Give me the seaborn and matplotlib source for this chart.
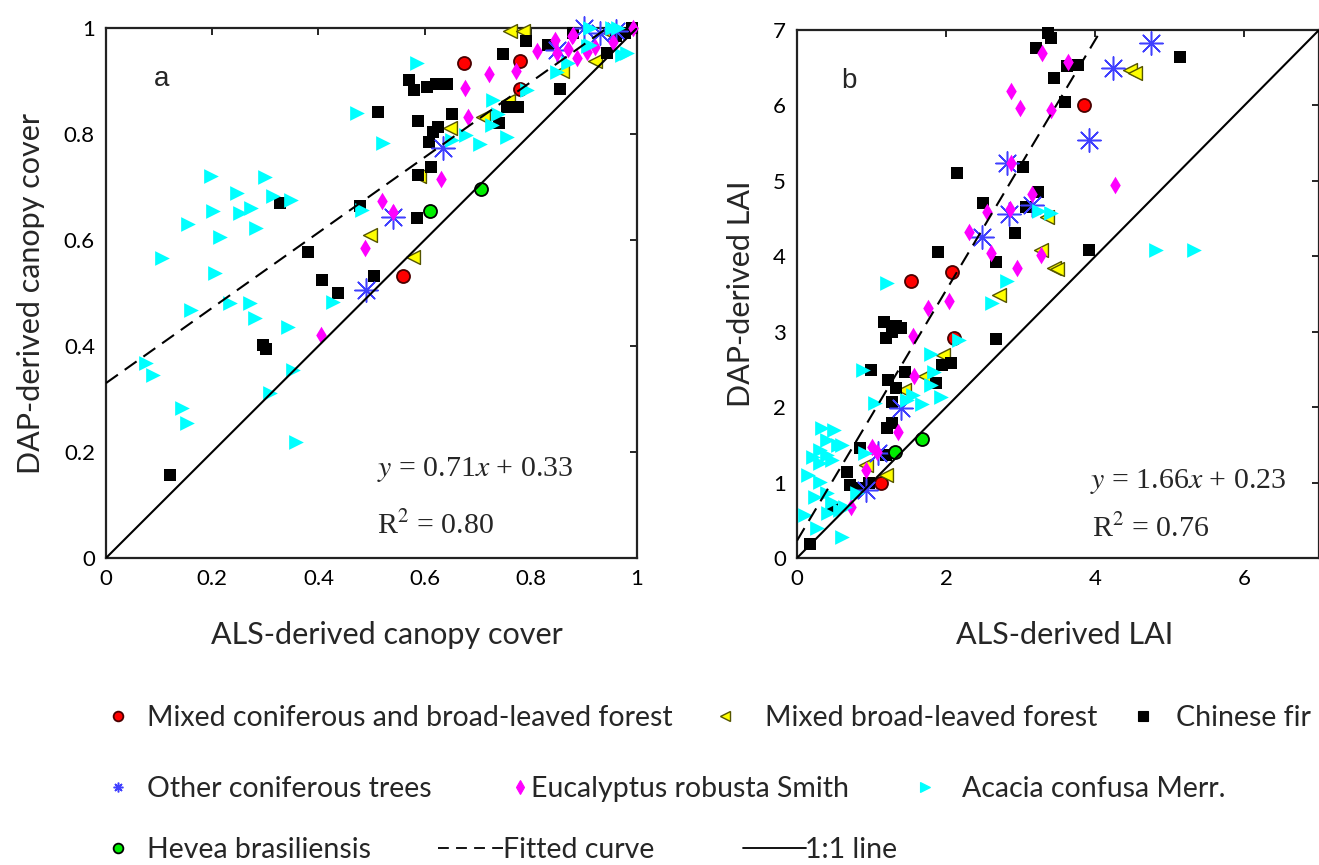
import numpy as np
import matplotlib
matplotlib.use('Agg')
import matplotlib.pyplot as plt
from matplotlib.lines import Line2D
import seaborn as sns

sns.set_style('white')
plt.rcParams['font.family'] = ['Lato', 'DejaVu Sans']
plt.rcParams['mathtext.fontset'] = 'stix'

# ---- panel a: canopy cover (ALS x, DAP y) ----
mixed_cf_a_x = [0.674, 0.78, 0.78, 0.56]
mixed_cf_a_y = [0.934, 0.938, 0.885, 0.532]
mixed_bl_a_x = [0.76, 0.785, 0.757, 0.71, 0.648, 0.59, 0.497, 0.578, 0.921, 0.859, 0.95]
mixed_bl_a_y = [0.995, 0.995, 0.862, 0.832, 0.811, 0.72, 0.61, 0.568, 0.938, 0.919, 0.99]
fir_a_x = [0.328, 0.381, 0.407, 0.437, 0.296, 0.301, 0.121, 0.505, 0.585, 0.612, 0.588,
           0.609, 0.616, 0.625, 0.587, 0.652, 0.512, 0.571, 0.58, 0.604, 0.621, 0.642,
           0.74, 0.755, 0.776, 0.748, 0.791, 0.832, 0.855, 0.943, 0.977, 0.96, 0.99,
           0.88, 0.478]
fir_a_y = [0.670, 0.577, 0.525, 0.500, 0.402, 0.394, 0.157, 0.532, 0.642, 0.738, 0.722,
           0.785, 0.804, 0.813, 0.824, 0.838, 0.841, 0.902, 0.883, 0.889, 0.894, 0.894,
           0.82, 0.851, 0.851, 0.951, 0.975, 0.968, 0.885, 0.952, 0.99, 0.985, 1.0,
           0.99, 0.665]
other_con_a_x = [0.635, 0.541, 0.49, 0.90, 0.85, 0.93, 0.96]
other_con_a_y = [0.774, 0.643, 0.506, 1.0, 0.958, 0.99, 0.995]
eucal_a_x = [0.811, 0.721, 0.772, 0.676, 0.682, 0.631, 0.519, 0.541, 0.488, 0.405,
             0.85, 0.88, 0.887, 0.905, 0.955, 0.993, 0.846, 0.878, 0.87, 0.92]
eucal_a_y = [0.956, 0.913, 0.919, 0.887, 0.833, 0.715, 0.674, 0.652, 0.585, 0.421,
             0.953, 0.987, 0.943, 0.955, 0.974, 1.0, 0.977, 0.985, 0.96, 0.965]
acacia_a_x = [0.473, 0.198, 0.299, 0.246, 0.315, 0.348, 0.201, 0.252, 0.274, 0.155,
              0.283, 0.215, 0.105, 0.205, 0.482, 0.161, 0.233, 0.271, 0.28, 0.343,
              0.428, 0.075, 0.088, 0.143, 0.153, 0.352, 0.309, 0.358, 0.585, 0.522,
              0.729, 0.738, 0.727, 0.755, 0.704, 0.678, 0.652, 0.793, 0.87, 0.849,
              0.911, 0.911, 0.953, 0.981, 0.972, 0.908, 0.964]
acacia_a_y = [0.84, 0.721, 0.719, 0.689, 0.683, 0.675, 0.655, 0.651, 0.660, 0.63,
              0.622, 0.605, 0.566, 0.537, 0.657, 0.468, 0.481, 0.481, 0.452, 0.436,
              0.483, 0.368, 0.345, 0.283, 0.254, 0.355, 0.311, 0.219, 0.934, 0.783,
              0.864, 0.838, 0.817, 0.795, 0.781, 0.798, 0.789, 0.883, 0.934, 0.917,
              0.968, 1.0, 1.0, 0.952, 0.949, 0.966, 1.0]
hevea_a_x = [0.706, 0.61]
hevea_a_y = [0.696, 0.655]

# ---- panel b: LAI ----
mixed_cf_b_x = [1.53, 2.08, 3.85, 2.1, 1.13]
mixed_cf_b_y = [3.67, 3.79, 6.01, 2.92, 0.99]
mixed_bl_b_x = [4.47, 4.53, 3.35, 3.27, 3.44, 3.48, 2.71, 1.96, 1.72, 1.44, 1.2, 0.93]
mixed_bl_b_y = [6.47, 6.43, 4.52, 4.08, 3.85, 3.83, 3.49, 2.69, 2.41, 2.23, 1.1, 1.23]
fir_b_x = [3.37, 3.4, 3.2, 3.45, 3.77, 3.62, 5.13, 3.6, 2.15, 3.03, 3.23, 3.07, 2.49,
           2.93, 1.89, 2.67, 3.91, 1.16, 1.27, 1.4, 1.2, 2.67, 1.95, 2.07, 0.99, 1.45,
           1.22, 1.33, 1.87, 1.28, 1.28, 1.21, 0.84, 1.2, 0.67, 0.71, 0.81, 0.97, 0.47,
           0.17, 1.33]
fir_b_y = [6.96, 6.9, 6.76, 6.37, 6.54, 6.52, 6.64, 6.05, 5.1, 5.19, 4.85, 4.66, 4.7,
           4.31, 4.06, 3.93, 4.08, 3.13, 3.0, 3.05, 2.92, 2.9, 2.56, 2.59, 2.49, 2.47,
           2.36, 2.25, 2.32, 2.07, 1.79, 1.72, 1.46, 1.37, 1.14, 0.97, 0.93, 0.99, 0.66,
           0.19, 3.07]
other_con_b_x = [4.75, 4.24, 3.92, 2.81, 2.84, 3.15, 2.48, 1.4, 1.08, 0.93]
other_con_b_y = [6.83, 6.49, 5.54, 5.24, 4.56, 4.68, 4.26, 1.99, 1.39, 0.9]
eucal_b_x = [3.29, 2.87, 2.99, 3.4, 2.87, 3.15, 2.85, 2.55, 2.31, 2.6, 3.27, 2.95,
             3.63, 4.27, 1.76, 2.04, 1.55, 1.57, 1.35, 1.01, 1.07, 0.92, 0.72]
eucal_b_y = [6.7, 6.19, 5.97, 5.94, 5.24, 4.83, 4.63, 4.59, 4.32, 4.04, 4.02, 3.85,
             6.58, 4.95, 3.32, 3.41, 2.94, 2.41, 1.67, 1.47, 1.41, 1.17, 0.68]
acacia_b_x = [4.81, 5.33, 1.21, 2.81, 3.24, 3.41, 2.61, 2.17, 1.8, 0.88, 1.84, 1.8,
              1.93, 1.68, 1.04, 1.47, 1.55, 0.33, 0.49, 0.4, 0.55, 0.31, 0.4, 0.21,
              0.31, 0.47, 0.15, 0.31, 0.24, 0.4, 0.47, 0.57, 0.11, 0.27, 0.61, 0.41,
              0.64, 0.8, 0.91, 0.6]
acacia_b_y = [4.08, 4.08, 3.65, 3.67, 4.6, 4.57, 3.38, 2.89, 2.7, 2.49, 2.47, 2.29,
              2.14, 2.04, 2.06, 2.1, 2.16, 1.72, 1.7, 1.56, 1.5, 1.43, 1.37, 1.34,
              1.26, 1.3, 1.1, 1.01, 0.81, 0.86, 0.74, 0.64, 0.57, 0.4, 0.28, 0.6,
              0.68, 0.86, 1.39, 1.5]
hevea_b_x = [1.31, 1.68]
hevea_b_y = [1.41, 1.58]

# regression fits
fit_a = (0.71, 0.33)
fit_b = (1.66, 0.23)

labels = ['Mixed coniferous and broad-leaved forest', 'Mixed broad-leaved forest',
          'Chinese fir', 'Other coniferous trees', 'Eucalyptus robusta Smith',
          'Acacia confusa Merr.', 'Hevea brasiliensis']

# marker, face, edge, size, linewidth
styles = [('o', '#ff0000', '#4a0000', 88, 1.3),
          ('<', '#ffff00', '#555500', 100, 1.0),
          ('s', '#000000', '#000000', 72, 0.0),
          ((8, 2, 0), '#4040ff', '#4040ff', 280, 1.1),
          ('d', '#ff00ff', '#ff00ff', 80, 0.0),
          ('>', '#00ffff', '#00ffff', 112, 0.0),
          ('o', '#00ee00', '#000000', 88, 1.3)]

data_a = [(mixed_cf_a_x, mixed_cf_a_y), (mixed_bl_a_x, mixed_bl_a_y), (fir_a_x, fir_a_y),
          (other_con_a_x, other_con_a_y), (eucal_a_x, eucal_a_y),
          (acacia_a_x, acacia_a_y), (hevea_a_x, hevea_a_y)]
data_b = [(mixed_cf_b_x, mixed_cf_b_y), (mixed_bl_b_x, mixed_bl_b_y), (fir_b_x, fir_b_y),
          (other_con_b_x, other_con_b_y), (eucal_b_x, eucal_b_y),
          (acacia_b_x, acacia_b_y), (hevea_b_x, hevea_b_y)]

W, H = 1319, 865
fig = plt.figure(figsize=(W / 100, H / 100), dpi=100)
ax_a = fig.add_axes([106 / W, 1 - 558 / H, 531 / W, 530 / H])
ax_b = fig.add_axes([797 / W, 1 - 558 / H, 522 / W, 528 / H])


def draw_panel(ax, data, fit, lim, ticks, ticklabels):
    for (xs, ys), (m, fc, ec, s, lw) in zip(data, styles):
        sns.scatterplot(x=xs, y=ys, ax=ax, marker=m, color=fc, edgecolor=ec,
                        s=s, linewidth=lw, legend=False, zorder=3, clip_on=False)
    line_x = np.array([0.0, lim])
    sns.lineplot(x=line_x, y=fit[0] * line_x + fit[1], ax=ax, color='black',
                 linewidth=1.5, dashes=False, linestyle=(0, (7, 4)), zorder=4)
    sns.lineplot(x=line_x, y=line_x, ax=ax, color='black', linewidth=1.5, zorder=4)
    ax.set_xlim(0, lim)
    ax.set_ylim(0, lim)
    ax.set_xticks(ticks[0])
    ax.set_xticklabels(ticklabels[0])
    ax.set_yticks(ticks[1])
    ax.set_yticklabels(ticklabels[1])
    ax.tick_params(direction='in', length=5, width=1.2, top=True, right=True,
                   labelsize=16, pad=8, colors='black')
    for sp in ax.spines.values():
        sp.set_color('#222222')
        sp.set_linewidth(1.6)


cover_ticks = [0, 0.2, 0.4, 0.6, 0.8, 1]
cover_labels = ['0', '0.2', '0.4', '0.6', '0.8', '1']
draw_panel(ax_a, data_a, fit_a, 1, (cover_ticks, cover_ticks),
           (cover_labels, cover_labels))
draw_panel(ax_b, data_b, fit_b, 7, ([0, 2, 4, 6], list(range(8))),
           (['0', '2', '4', '6'], [str(i) for i in range(8)]))

lab_fs = 22
ax_a.set_xlabel('ALS-derived canopy cover', fontsize=lab_fs)
ax_a.set_ylabel('DAP-derived canopy cover', fontsize=lab_fs)
ax_b.set_xlabel('ALS-derived LAI', fontsize=lab_fs)
ax_b.set_ylabel('DAP-derived LAI', fontsize=lab_fs)
ax_a.xaxis.set_label_coords(0.529, -0.118)
ax_a.yaxis.set_label_coords(-0.115, 0.50)
ax_b.xaxis.set_label_coords(0.513, -0.120)
ax_b.yaxis.set_label_coords(-0.080, 0.50)

ax_a.text(0.09, 0.89, 'a', transform=ax_a.transAxes, fontsize=20,
          family='Liberation Sans')
ax_b.text(0.085, 0.89, 'b', transform=ax_b.transAxes, fontsize=20,
          family='Liberation Sans')

eq_font = dict(fontsize=21.5, family='Liberation Serif', va='baseline')
ax_a.text(0.51, 0.155, r'$y$ = %.2f$x$ + %.2f' % fit_a, transform=ax_a.transAxes, **eq_font)
ax_a.text(0.51, 0.045, r'R$^2$ = 0.80', transform=ax_a.transAxes, **eq_font)
ax_b.text(0.562, 0.132, r'$y$ = %.2f$x$ + %.2f' % fit_b, transform=ax_b.transAxes, **eq_font)
ax_b.text(0.565, 0.040, r'R$^2$ = 0.76', transform=ax_b.transAxes, **eq_font)

# legend keys laid out as in the source figure
fs = 20.5
em = fs * 100 / 72


def add_key(handle, label, cx, cy, tx, hl=1.0):
    left = cx - hl * em / 2
    pad = (tx - left - hl * em) / em
    fig.legend(handles=[handle], labels=[label], loc='center left',
               bbox_to_anchor=(left / W, 1 - cy / H), frameon=False,
               borderpad=0, borderaxespad=0, handlelength=hl,
               handletextpad=pad, fontsize=fs)


key_pos = [(118, 718, 147), (725, 718, 765), (1143, 718, 1176),
           (118, 789, 147), (520, 789, 531), (925, 789, 962),
           (118, 850, 147)]
for lab, (m, fc, ec, s, lw), (cx, cy, tx) in zip(labels, styles, key_pos):
    h = Line2D([], [], linestyle='none', marker=m, markersize=7,
               markerfacecolor=fc, markeredgecolor=ec, markeredgewidth=max(lw, 0.8))
    add_key(h, lab, cx, cy, tx)

add_key(Line2D([], [], color='black', linewidth=1.3, linestyle=(0, (6, 4))),
        'Fitted curve', 470, 850, 503, hl=65 / em)
add_key(Line2D([], [], color='black', linewidth=1.3),
        '1:1 line', 774, 850, 805, hl=63 / em)

fig.savefig('out.png', dpi=100)
